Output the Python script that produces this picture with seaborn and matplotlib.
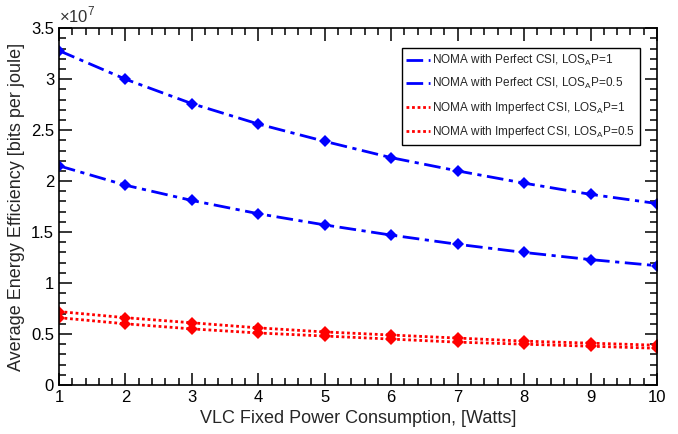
import numpy as np
import pandas as pd
import matplotlib
matplotlib.use("Agg")
import matplotlib.pyplot as plt
import seaborn as sns
from matplotlib.ticker import MultipleLocator, FuncFormatter

# data (values in units of 1e7 bits per joule)
power = [1, 2, 3, 4, 5, 6, 7, 8, 9, 10]
perfect_p1 = [3.28, 3.00, 2.76, 2.56, 2.39, 2.23, 2.10, 1.98, 1.87, 1.78]
perfect_p05 = [2.15, 1.96, 1.81, 1.68, 1.57, 1.47, 1.38, 1.30, 1.23, 1.17]
imperfect_p1 = [0.72, 0.66, 0.61, 0.56, 0.52, 0.49, 0.46, 0.43, 0.41, 0.39]
imperfect_p05 = [0.66, 0.60, 0.55, 0.51, 0.48, 0.45, 0.42, 0.40, 0.38, 0.36]

labels = [
    r"NOMA with Perfect CSI, LOS$_\mathrm{A}$P=1",
    r"NOMA with Perfect CSI, LOS$_\mathrm{A}$P=0.5",
    r"NOMA with Imperfect CSI, LOS$_\mathrm{A}$P=1",
    r"NOMA with Imperfect CSI, LOS$_\mathrm{A}$P=0.5",
]

sns.set_style("ticks")
plt.rcParams["font.family"] = ["Liberation Sans", "DejaVu Sans"]
plt.rcParams["mathtext.fontset"] = "custom"
plt.rcParams["mathtext.rm"] = "Liberation Sans"

fig, ax = plt.subplots(figsize=(6.78, 4.34), dpi=100)

series = [
    (perfect_p1, "#0000ff", (0, (6, 2, 1.5, 2))),
    (perfect_p05, "#0000ff", (0, (6, 2, 1.5, 2))),
    (imperfect_p1, "#ff0000", (0, (1, 1))),
    (imperfect_p05, "#ff0000", (0, (1, 1))),
]
for (vals, col, ls), lab in zip(series, labels):
    df = pd.DataFrame({"x": power, "y": np.array(vals) * 1e7})
    sns.lineplot(data=df, x="x", y="y", ax=ax, color=col, linewidth=2,
                 linestyle=ls, marker="D", markersize=6, markeredgewidth=0,
                 label=lab)

ax.set_xlim(1, 10)
ax.set_ylim(0, 3.5e7)
ax.xaxis.set_major_locator(MultipleLocator(1))
ax.xaxis.set_minor_locator(MultipleLocator(0.2))
ax.yaxis.set_major_locator(MultipleLocator(0.5e7))
ax.yaxis.set_minor_locator(MultipleLocator(0.1e7))
ax.yaxis.set_major_formatter(FuncFormatter(lambda v, p: f"{v / 1e7:g}"))
ax.tick_params(which="both", direction="in", top=True, right=True,
               labelsize=12, colors="black")
ax.tick_params(which="major", length=9, width=1.1)
ax.tick_params(which="minor", length=5, width=1.1)
for s in ax.spines.values():
    s.set_linewidth(1.2)
    s.set_color("black")

ax.text(0.0, 1.008, r"$\times$10$^{7}$", transform=ax.transAxes,
        fontsize=12, ha="left", va="bottom", color="#333333")

ax.set_xlabel("VLC Fixed Power Consumption, [Watts]", fontsize=13)
ax.set_ylabel("Average Energy Efficiency [bits per joule]", fontsize=13)

leg = ax.legend(loc="upper right", bbox_to_anchor=(0.972, 0.944), fontsize=8.5,
                frameon=True, fancybox=False, edgecolor="black", framealpha=1,
                borderaxespad=0, handlelength=2.0, handletextpad=0.2,
                borderpad=0.4, labelspacing=0.7)
leg.get_frame().set_linewidth(1)
for h in leg.legend_handles:
    h.set_marker("")

fig.subplots_adjust(left=0.087, right=0.969, top=0.935, bottom=0.113)
fig.savefig("out.png", dpi=100)
